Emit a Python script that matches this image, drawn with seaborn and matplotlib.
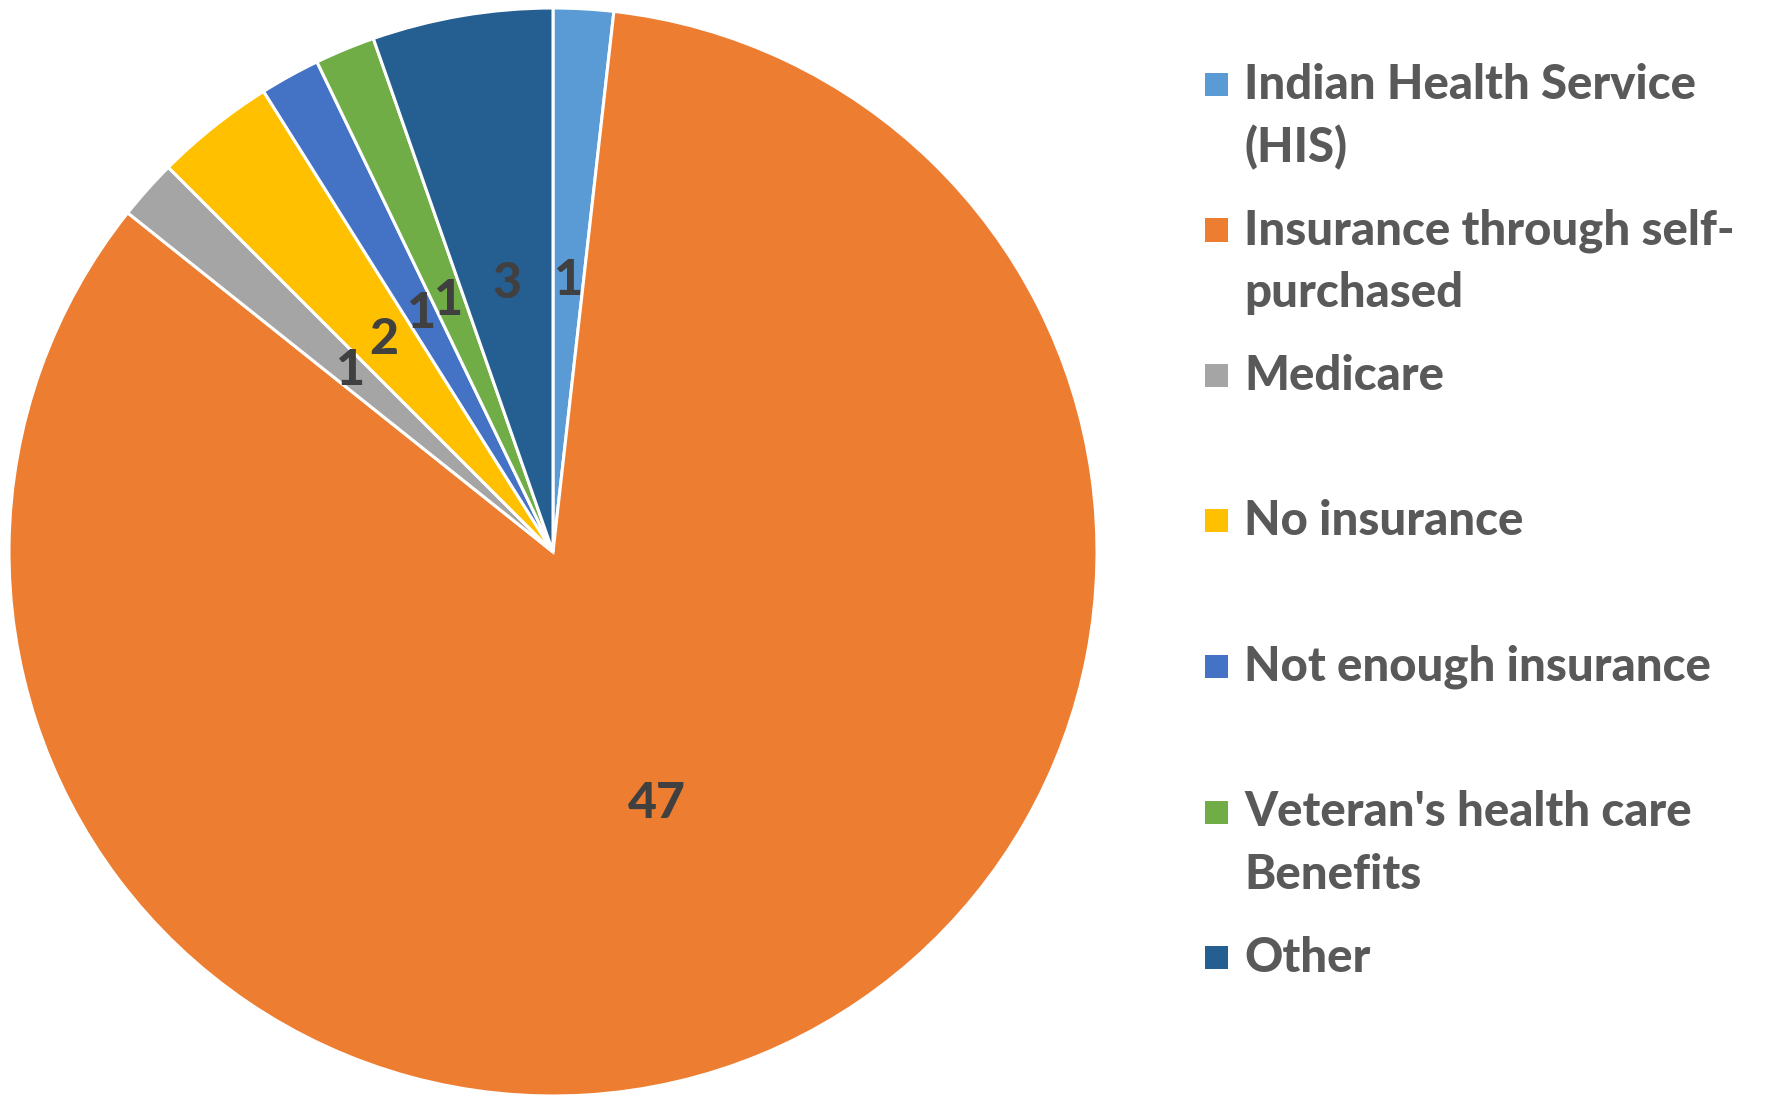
import matplotlib.pyplot as plt
import seaborn as sns

categories = [
    "Indian Health Service\n(HIS)",
    "Insurance through self-\npurchased",
    "Medicare",
    "No insurance",
    "Not enough insurance",
    "Veteran's health care\nBenefits",
    "Other",
]
counts = [1, 47, 1, 2, 1, 1, 3]
colors = ["#5B9BD5", "#ED7D31", "#A5A5A5", "#FFC000", "#4472C4", "#70AD47", "#255E91"]

sns.set_theme(style="white")
plt.rcParams["font.family"] = ["Lato", "DejaVu Sans"]

W, H = 1773, 1096
fig = plt.figure(figsize=(W / 100, H / 100), dpi=100)

# pie centre (553, 552) px, radius 544 px
cx, cy, r = 553, 552, 544
ax = fig.add_axes([(cx - r) / W, (H - cy - r) / H, 2 * r / W, 2 * r / H])
total = sum(counts)
wedges, _, autotexts = ax.pie(
    counts, colors=colors, startangle=90, counterclock=False,
    autopct=lambda p: f"{round(p * total / 100)}", pctdistance=0.5,
    wedgeprops=dict(edgecolor="white", linewidth=2.2),
    textprops=dict(color="#404040", fontsize=36, fontweight="black"),
)
ax.set_xlim(-1, 1)
ax.set_ylim(-1, 1)
ax.set_aspect("equal")
ax.axis("off")

# legend drawn by hand: marker on first line, wrapped lines below
first_y = 85
step = 145.5
line_gap = 62.5
for i, (label, col) in enumerate(zip(categories, colors)):
    y0 = first_y + i * step
    fig.patches.append(plt.Rectangle(((1205) / W, 1 - (y0 + 11) / H), 23 / W, 23 / H,
                                     transform=fig.transFigure, facecolor=col,
                                     edgecolor="none"))
    for j, line in enumerate(label.split("\n")):
        fig.text(1244 / W, 1 - (y0 + j * line_gap) / H, line, ha="left", va="center",
                 fontsize=34, fontweight="black", color="#595959")

fig.savefig("out.png", dpi=100)
